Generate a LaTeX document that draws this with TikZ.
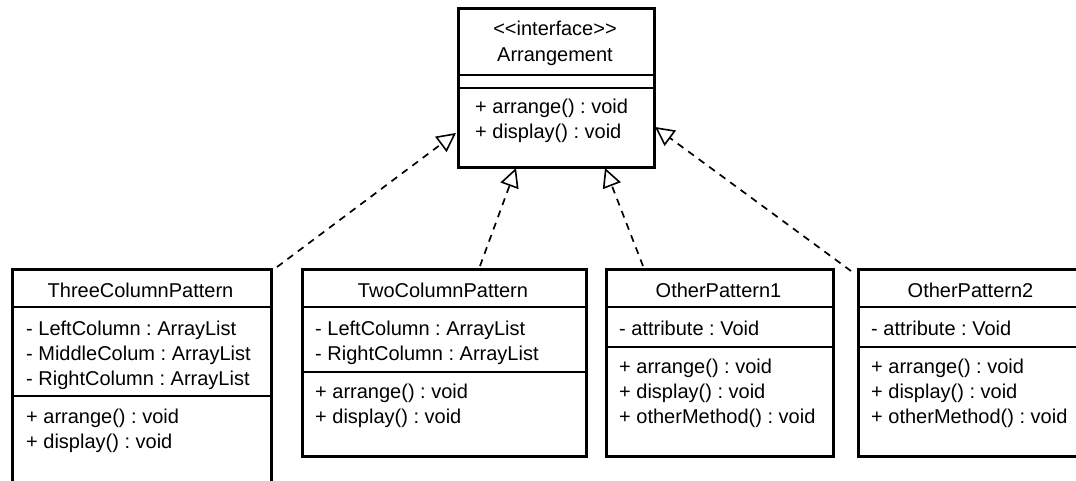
\documentclass[tikz,border=0pt]{standalone}
\usepackage{fontspec}
\setmainfont{Liberation Sans}
\usetikzlibrary{arrows.meta}
\frenchspacing
\begin{document}
\begin{tikzpicture}[x=1pt,y=-1pt,
  umlbox/.style={draw, line width=3pt, fill=white, anchor=north west,
                 inner sep=0pt, minimum width=#1},
  divider/.style={line width=1.3pt},
  member/.style={anchor=base west, inner sep=0pt, font=\fontsize{20}{25}\selectfont},
  title/.style={anchor=base, inner sep=0pt, font=\fontsize{20}{25}\selectfont},
  realizes/.style={line width=1.7pt, dash pattern=on 7pt off 6pt,
                   -{Triangle[open, length=19pt, width=19pt, line width=1.6pt]}}
]
\clip (0,0) rectangle (1076,481);
\fill[white] (0,0) rectangle (1076,481);

% interface
\node[umlbox=196pt, minimum height=159pt] (iface) at (457,7) {};
\draw[divider] ([yshift=-68pt]iface.north west) -- ([yshift=-68pt]iface.north east);
\draw[divider] ([yshift=-81pt]iface.north west) -- ([yshift=-81pt]iface.north east);
\node[title] (ifst) at (555,36) {{<}{<}interface{>}{>}};
\node[title] (ifnm) at (555,62) {Arrangement};
\node[member] (ifm1) at (475,114) {+ arrange() : void};
\node[member] (ifm2) at (475,139) {+ display() : void};

% ThreeColumnPattern
\node[umlbox=259pt, minimum height=240pt] (tc) at (11,268) {};
\draw[divider] ([yshift=-39pt]tc.north west) -- ([yshift=-39pt]tc.north east);
\draw[divider] ([yshift=-128pt]tc.north west) -- ([yshift=-128pt]tc.north east);
\node[title] (tct) at (140.5,297) {ThreeColumnPattern};
\node[member] (tca1) at (26,335) {- LeftColumn : ArrayList};
\node[member] (tca2) at (26,360) {- MiddleColum : ArrayList};
\node[member] (tca3) at (26,385) {- RightColumn : ArrayList};
\node[member] (tcm1) at (26,423) {+ arrange() : void};
\node[member] (tcm2) at (26,448) {+ display() : void};

% TwoColumnPattern
\node[umlbox=284pt, minimum height=187pt] (tw) at (301,268) {};
\draw[divider] ([yshift=-39pt]tw.north west) -- ([yshift=-39pt]tw.north east);
\draw[divider] ([yshift=-104pt]tw.north west) -- ([yshift=-104pt]tw.north east);
\node[title] (twt) at (443,297) {TwoColumnPattern};
\node[member] (twa1) at (315,335) {- LeftColumn : ArrayList};
\node[member] (twa2) at (315,360) {- RightColumn : ArrayList};
\node[member] (twm1) at (315,398) {+ arrange() : void};
\node[member] (twm2) at (315,423) {+ display() : void};

% OtherPattern1
\node[umlbox=227pt, minimum height=187pt] (oa) at (605,268) {};
\draw[divider] ([yshift=-39pt]oa.north west) -- ([yshift=-39pt]oa.north east);
\draw[divider] ([yshift=-79pt]oa.north west) -- ([yshift=-79pt]oa.north east);
\node[title] (oat) at (718.5,297) {OtherPattern1};
\node[member] (oaa1) at (619,335) {- attribute : Void};
\node[member] (oam1) at (619,373) {+ arrange() : void};
\node[member] (oam2) at (619,398) {+ display() : void};
\node[member] (oam3) at (619,423) {+ otherMethod() : void};

% OtherPattern2
\node[umlbox=227pt, minimum height=187pt] (ob) at (857,268) {};
\draw[divider] ([yshift=-39pt]ob.north west) -- ([yshift=-39pt]ob.north east);
\draw[divider] ([yshift=-79pt]ob.north west) -- ([yshift=-79pt]ob.north east);
\node[title] (obt) at (970.5,297) {OtherPattern2};
\node[member] (oba1) at (871,335) {- attribute : Void};
\node[member] (obm1) at (871,373) {+ arrange() : void};
\node[member] (obm2) at (871,398) {+ display() : void};
\node[member] (obm3) at (871,423) {+ otherMethod() : void};

% realization connectors
\coordinate (s1) at (277,267);
\coordinate (e1) at (456,133);
\coordinate (s2) at (480,266);
\coordinate (e2) at (516,168);
\coordinate (s3) at (643,266);
\coordinate (e3) at (605,168);
\coordinate (s4) at (851,271);
\coordinate (e4) at (655,127);
\draw[realizes] (s1) -- (e1);
\draw[realizes] (s2) -- (e2);
\draw[realizes] (s3) -- (e3);
\draw[realizes] (s4) -- (e4);
\end{tikzpicture}
\end{document}
